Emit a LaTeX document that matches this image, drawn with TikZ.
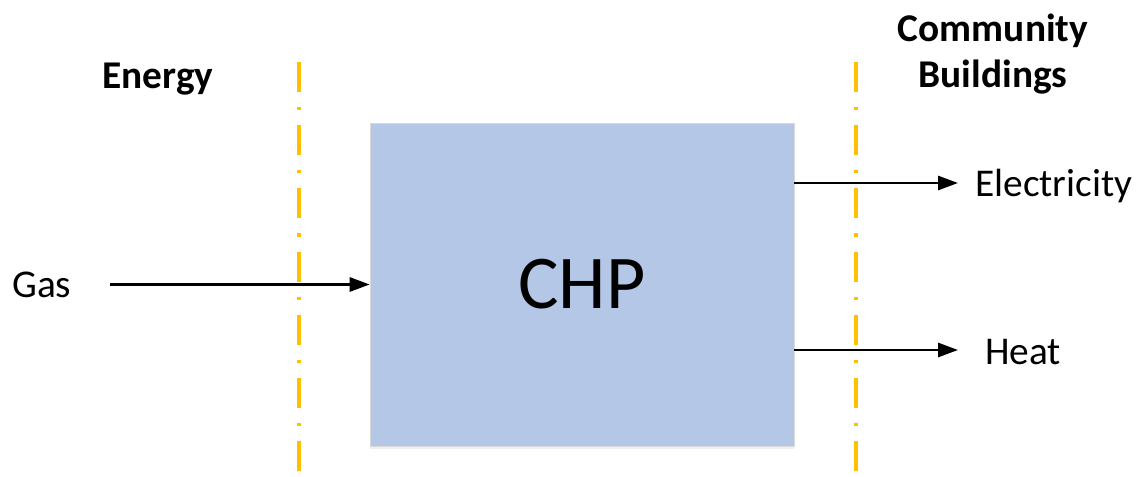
\documentclass[tikz,border=0pt]{standalone}
\usepackage{fontspec}
\setmainfont{Carlito}
\usetikzlibrary{arrows.meta,shadows}
\definecolor{chpblue}{HTML}{B4C7E7}
\definecolor{cutgold}{HTML}{FFC000}

\begin{document}
\begin{tikzpicture}[x=0.75pt,y=-0.75pt,
  flow/.style={-{Triangle[length=15pt,width=10.5pt]},line width=2.1pt},
  cut/.style={cutgold,line width=2.4pt,dash pattern=on 22.5pt off 11.25pt on 2.4pt off 11.25pt},
  lbl/.style={font=\fontsize{29.5}{34.5}\selectfont,inner sep=0pt},
  head/.style={lbl,font=\fontsize{29.5}{34.5}\selectfont\bfseries}]
  \useasboundingbox[fill=white] (0,0) rectangle (1142,477);

  % boundaries
  \draw[cut] (299,62) -- (299,477);
  \draw[cut] (856,62) -- (856,477);

  \node[draw=gray!30,fill=chpblue,minimum width=318pt,minimum height=242pt,inner sep=0pt,
        drop shadow={opacity=0.12,shadow xshift=0pt,shadow yshift=-2pt},
        font=\fontsize{57}{60}\selectfont] (chp) at (582,284.5) {CHP};

  \node[head,anchor=base] (energy) at (158,89) {Energy};
  \node[head,anchor=base,align=center] (comm) at (993,88) {Community\\Buildings};

  \node[lbl,anchor=base west] (gas) at (12,297) {Gas};
  \node[lbl,anchor=base west] (elec) at (975,197) {Electricity};
  \node[lbl,anchor=base west] (heat) at (985,364) {Heat};

  \coordinate (gasstart) at (110,284.5);
  \coordinate (elecend) at (958,183);
  \coordinate (heatend) at (958,350);

  \draw[flow] (gasstart) -- (chp.west);
  \draw[flow] (chp.east |- elecend) -- (elecend);
  \draw[flow] (chp.east |- heatend) -- (heatend);
\end{tikzpicture}
\end{document}
